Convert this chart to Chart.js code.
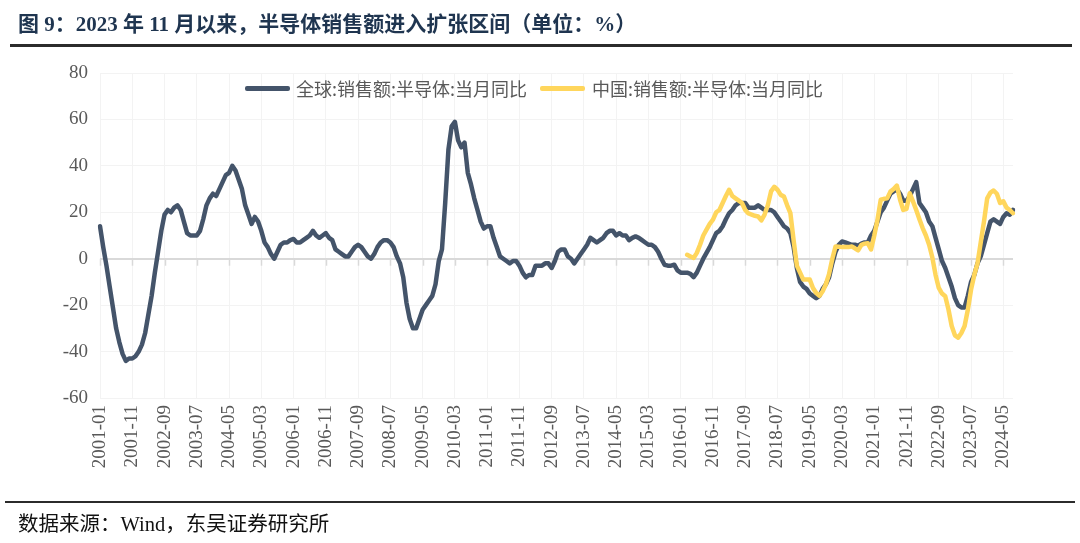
<!DOCTYPE html>
<html>
<head>
<meta charset="utf-8">
<script src="https://cdn.jsdelivr.net/npm/chart.js@4.4.1/dist/chart.umd.min.js"></script>
<style>
  html, body { margin: 0; padding: 0; background: #fff; }
  #wrap { position: relative; width: 1080px; height: 543px; overflow: hidden; background: #fff; }
  #c { position: absolute; left: 0; top: 0; }
  #title { position: absolute; left: 18px; top: 7px; font: bold 21px "Liberation Serif", "Noto Sans CJK SC", serif; color: #1f3550; white-space: nowrap; }
  #rule1 { position: absolute; left: 10px; top: 44px; width: 1062px; height: 3px; background: #2b2b2b; }
  #rule2 { position: absolute; left: 5px; top: 501px; width: 1070px; height: 2px; background: #2b2b2b; }
  #source { position: absolute; left: 18px; top: 507px; font: 20.5px "Liberation Serif", "Noto Sans CJK SC", serif; color: #111; white-space: nowrap; }
  .lg-line { position: absolute; height: 5px; width: 45px; border-radius: 2px; }
  .lg-text { position: absolute; font: 18px "Noto Sans CJK SC", sans-serif; color: #595959; white-space: nowrap; line-height: 24px; }
</style>
</head>
<body>
<div id="wrap">
  <canvas id="c" width="1080" height="543"></canvas>
  <div id="title">图 9：2023 年 11 月以来，半导体销售额进入扩张区间（单位：%）</div>
  <div id="rule1"></div>
  <div id="rule2"></div>
  <div id="source">数据来源：Wind，东吴证券研究所</div>
</div>
<script>
// ---- data ----
const startYear = 2001;
const startMonth = 1;
const monthCount = 284; // 2001-01 .. 2024-08
const labelEvery = 10;

const seriesNames = ['全球:销售额:半导体:当月同比', '中国:销售额:半导体:当月同比'];

const globalYoY = [
  // 2001
  14, 5, -3, -12, -21, -30, -36, -41, -44, -43, -43, -42,
  // 2002
  -40, -37, -32, -24, -16, -6, 3, 12, 19, 21, 20, 22,
  // 2003
  23, 21, 16, 11, 10, 10, 10, 12, 17, 23, 26, 28,
  // 2004
  27, 30, 33, 36, 37, 40, 38, 34, 30, 23, 19, 15,
  // 2005
  18, 16, 12, 7, 5, 2, 0, 3, 6, 7, 7, 8,
  // 2006
  8.5, 7, 7, 8, 9, 10, 12, 10, 9, 10, 11, 9,
  // 2007
  8, 4, 3, 2, 1, 1, 3, 5, 6, 5, 3, 1,
  // 2008
  0, 2, 5, 7, 8, 8, 7, 5, 1, -2, -8, -19,
  // 2009
  -26, -30, -30, -26, -22, -20, -18, -16, -11, -1, 4, 24,
  // 2010
  47, 57, 59, 51, 48, 50, 37, 32, 26, 21, 16, 13,
  // 2011
  14, 14, 9, 5, 1, 0, -1, -2, -1, -1, -3, -6,
  // 2012
  -8, -7, -7, -3, -3, -3, -2, -2, -4, -1, 3, 4,
  // 2013
  4, 1, 0, -2, 0, 2, 4, 6, 9, 8, 7, 8,
  // 2014
  9, 11, 12, 12, 10, 11, 10, 10, 8, 9, 9.6, 9,
  // 2015
  8, 7, 6, 6, 5, 3, 0, -2.6, -3, -3, -2.6, -5,
  // 2016
  -6, -6, -6, -6.5, -7.9, -6, -3, 0, 2.5, 5, 8, 11,
  // 2017
  12, 14, 17, 19.6, 21, 23, 24, 24, 24, 22, 22, 22,
  // 2018
  23, 22, 21, 21, 21, 20, 18, 16, 14, 13, 11, 5,
  // 2019
  -4, -10, -12, -13, -15, -16, -17, -16, -13, -11, -8, -2,
  // 2020
  3, 6, 7.4, 7, 6.5, 6, 6, 5.6, 6.5, 7, 7, 10,
  // 2021
  12, 16, 20, 22, 25, 28, 29, 30, 28, 25, 25, 27,
  // 2022
  30, 33, 24, 22, 20, 16, 14, 9, 4, -1, -4, -8,
  // 2023
  -12, -17, -20, -21, -21, -16, -10, -7, -2, 1, 6, 11,
  // 2024
  16, 17, 16, 15, 18, 19.6, 19, 21
];

const chinaStartIndex = 182; // 2016-03
const chinaYoY = [
  // 2016 (Mar-Dec)
  1.7, 1, 0.3, 2.5, 6, 10, 12.5, 15, 16.8, 20,
  // 2017
  21, 24, 27, 29.7, 27, 26, 25, 24, 21, 19.5, 19, 18.5,
  // 2018
  18.2, 16.5, 19, 23, 29, 31, 29.7, 27.5, 26.8, 23, 19.6, 8,
  // 2019
  -3, -6, -9, -9, -9, -12.6, -14.8, -16, -14, -11, -6.5, 0,
  // 2020
  5.3, 5.2, 5, 5, 5, 5.3, 4.5, 3.6, 6, 6.5, 6.7, 4,
  // 2021
  10, 16.8, 25.4, 25.8, 26, 28.9, 30, 31.5, 25.4, 21, 21.5, 28.2,
  // 2022
  24.7, 21, 17, 13.2, 10, 6, 0.5, -7, -12.6, -15, -16.2, -21.9,
  // 2023
  -29, -33, -34, -32, -29, -22, -13.3, -7, -2, 7, 16, 26,
  // 2024
  28.5, 29.4, 28, 24, 24.7, 22, 21, 19.6
];

const yMin = -60, yMax = 80, yStep = 20;

// ---- build ----
const categories = [];
for (let i = 0; i < monthCount; i++) {
  const m0 = startMonth - 1 + i;
  const y = startYear + Math.floor(m0 / 12);
  const m = (m0 % 12) + 1;
  categories.push(y + '-' + (m < 10 ? '0' + m : '' + m));
}
const chinaData = new Array(chinaStartIndex).fill(null).concat(chinaYoY);

const NAVY = '#44546A';
const GOLD = '#FFD65C';
const AXIS_GREY = '#d9d9d9';
const TEXT_GREY = '#595959';
const seriesColors = [NAVY, GOLD];

// HTML legend (inside plot, top centre)
const legendSlots = [{ line: 245, text: 296 }, { line: 540, text: 592 }];
const wrap = document.getElementById('wrap');
seriesNames.forEach((name, i) => {
  const ln = document.createElement('div');
  ln.className = 'lg-line';
  ln.style.left = legendSlots[i].line + 'px';
  ln.style.top = '86px';
  ln.style.background = seriesColors[i];
  wrap.appendChild(ln);
  const tx = document.createElement('div');
  tx.className = 'lg-text';
  tx.style.left = legendSlots[i].text + 'px';
  tx.style.top = '76px';
  tx.textContent = name;
  wrap.appendChild(tx);
});

const zeroTicks = {
  id: 'zeroTicks',
  beforeDatasetsDraw(chart) {
    const xs = chart.scales.x, ys = chart.scales.y;
    const y0 = ys.getPixelForValue(0);
    const ctx = chart.ctx;
    ctx.save();
    ctx.strokeStyle = AXIS_GREY;
    ctx.lineWidth = 1.5;
    for (let i = 0; i < categories.length; i += labelEvery) {
      const x = Math.round(xs.getPixelForValue(i)) + 0.5;
      ctx.beginPath();
      ctx.moveTo(x, y0);
      ctx.lineTo(x, y0 + 7);
      ctx.stroke();
    }
    ctx.restore();
  }
};

new Chart(document.getElementById('c'), {
  type: 'line',
  data: {
    labels: categories,
    datasets: [
      {
        label: seriesNames[0], data: globalYoY,
        borderColor: NAVY, backgroundColor: NAVY, borderWidth: 4.5,
        pointRadius: 0, tension: 0, borderJoinStyle: 'round', borderCapStyle: 'round',
        order: 1
      },
      {
        label: seriesNames[1], data: chinaData,
        borderColor: GOLD, backgroundColor: GOLD, borderWidth: 4.5,
        pointRadius: 0, tension: 0, borderJoinStyle: 'round', borderCapStyle: 'round',
        spanGaps: false, order: 0
      }
    ]
  },
  options: {
    responsive: false,
    animation: false,
    devicePixelRatio: 1,
    layout: { padding: { left: 0, right: 67, top: 73, bottom: 65 } },
    plugins: {
      tooltip: { enabled: false },
      legend: { display: false }
    },
    scales: {
      x: {
        type: 'category',
        offset: false,
        afterFit: (s) => { s.height = 80; },
        border: { display: false },
        grid: {
          drawTicks: false,
          color: '#f3f3f3',
          lineWidth: 1
        },
        ticks: {
          autoSkip: false,
          minRotation: 90, maxRotation: 90,
          padding: 7,
          color: TEXT_GREY,
          font: { family: '"Liberation Serif", serif', size: 19 },
          callback: function (v, i) { return i % labelEvery === 0 ? categories[i] : null; }
        }
      },
      y: {
        min: yMin, max: yMax,
        afterFit: (s) => { s.width = 100; },
        border: { display: false },
        grid: {
          drawTicks: false,
          color: (ctx) => ctx.tick && ctx.tick.value === 0 ? AXIS_GREY : '#f3f3f3',
          lineWidth: (ctx) => ctx.tick && ctx.tick.value === 0 ? 2 : 1
        },
        ticks: {
          stepSize: yStep,
          padding: 12,
          color: TEXT_GREY,
          font: { family: '"Liberation Serif", serif', size: 19 }
        }
      }
    }
  },
  plugins: [zeroTicks]
});
</script>
</body>
</html>
